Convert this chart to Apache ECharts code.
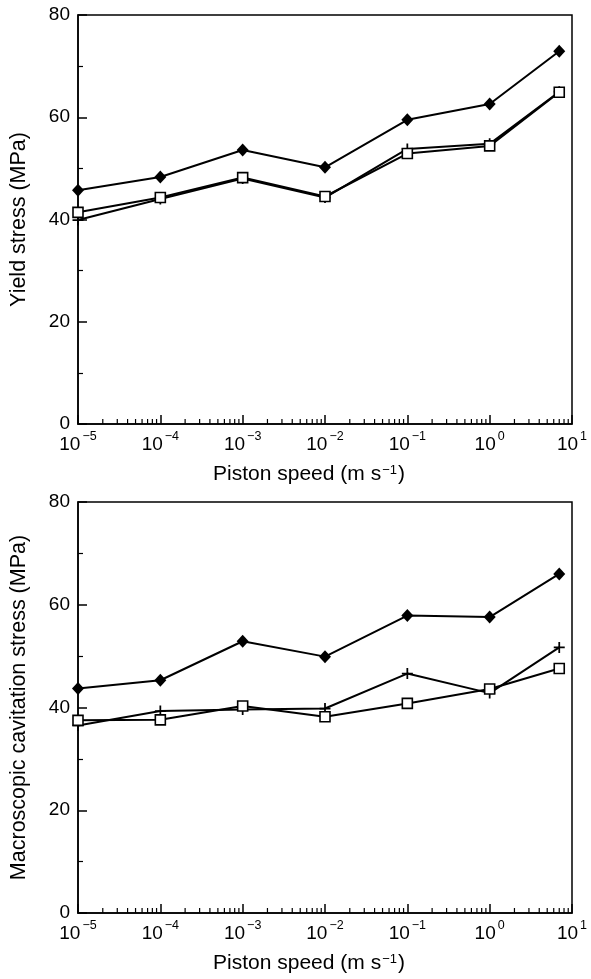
<!DOCTYPE html>
<html>
<head>
<meta charset="utf-8">
<script src="https://cdn.jsdelivr.net/npm/echarts@6/dist/echarts.min.js"></script>
<style>
html,body{margin:0;padding:0;background:#fff;}
#c{width:591px;height:979px;}
</style>
</head>
<body>
<div id="c"></div>
<script>
// ---- data ----
const speed = [1e-5, 1e-4, 1e-3, 1e-2, 1e-1, 1, 7];
const yieldDiamond = [45.7, 48.3, 53.6, 50.2, 59.5, 62.6, 72.9];
const yieldSquare  = [41.4, 44.3, 48.2, 44.5, 52.9, 54.4, 64.9];
const yieldPlus    = [39.9, 44.0, 48.0, 44.3, 53.8, 54.8, 65.0];
const cavDiamond   = [43.7, 45.3, 52.9, 49.9, 57.9, 57.6, 66.0];
const cavSquare    = [37.5, 37.6, 40.3, 38.2, 40.8, 43.6, 47.6];
const cavPlus      = [36.5, 39.3, 39.6, 39.8, 46.6, 42.8, 51.7];
const decadeExponents = [-5, -4, -3, -2, -1, 0, 1];
const minorMultipliers = [2, 3, 4, 5, 6, 7, 8, 9];
const yTicks = [0, 20, 40, 60, 80];
const xName = 'Piston speed (m s{s|−1})';
const yNameTop = 'Yield stress (MPa)';
const yNameBottom = 'Macroscopic cavitation stress (MPa)';

// ---- build ----
const FONT = '"Liberation Sans", Arial, Helvetica, sans-serif';
const minorTicks = [];
decadeExponents.slice(0, -1).forEach(e => minorMultipliers.forEach(m => minorTicks.push([m * Math.pow(10, e), 0])));
const pairs = ys => speed.map((x, i) => [x, ys[i]]);
const expStr = e => (e < 0 ? '−' + (-e) : String(e));

const plusPath = 'path://M4.2,0h1.6v4.2h4.2v1.6h-4.2v4.2h-1.6v-4.2h-4.2v-1.6h4.2z';

function xAxis(gridIndex) {
  return {
    type: 'log', logBase: 10, gridIndex, min: 1e-5, max: 10,
    name: xName, nameLocation: 'middle', nameGap: 40,
    nameTextStyle: { fontFamily: FONT, fontSize: 21, color: '#000', padding: [0, 32, 0, 0],
      rich: { s: { fontFamily: FONT, fontSize: 13, verticalAlign: 'top', padding: [0, 1, 8, 1] } } },
    axisLine: { lineStyle: { color: '#000', width: 1.5 } },
    axisTick: { inside: true, length: 9, lineStyle: { color: '#000', width: 1.5 } },
    splitLine: { show: false },
    axisLabel: {
      margin: 6, color: '#000', fontFamily: FONT, fontSize: 19,
      formatter: v => '{b|10}{s|' + expStr(Math.round(Math.log10(v))) + '}',
      rich: {
        b: { fontFamily: FONT, fontSize: 19, color: '#000', lineHeight: 24, verticalAlign: 'bottom' },
        s: { fontFamily: FONT, fontSize: 12.5, color: '#000', verticalAlign: 'top', lineHeight: 14, padding: [0, 0, 0, 2] }
      }
    }
  };
}
function yAxis(gridIndex, name) {
  return {
    type: 'value', gridIndex, min: 0, max: 80, interval: 20,
    name, nameLocation: 'middle', nameGap: 48,
    nameTextStyle: { fontFamily: FONT, fontSize: 21.5, color: '#000' },
    axisLine: { show: true, lineStyle: { color: '#000', width: 1.5 } },
    axisTick: { inside: true, length: 9, lineStyle: { color: '#000', width: 1.5 } },
    minorTick: { show: true, splitNumber: 2, length: 5, lineStyle: { color: '#000', width: 1.2 } },
    splitLine: { show: false },
    axisLabel: { margin: 8, color: '#000', fontFamily: FONT, fontSize: 19, formatter: v => yTicks.includes(v) ? String(v) : '' }
  };
}
function lineSeries(idx, ys, kind) {
  const base = {
    type: 'line', xAxisIndex: idx, yAxisIndex: idx, data: pairs(ys),
    lineStyle: { color: '#000', width: 2 }, showAllSymbol: true, clip: false, animation: false, z: 3
  };
  if (kind === 'diamond') {
    return Object.assign(base, { symbol: 'diamond', symbolSize: [12, 13], itemStyle: { color: '#000' } });
  } else if (kind === 'square') {
    return Object.assign(base, { symbol: 'rect', symbolSize: 10, z: 4, itemStyle: { color: '#fff', borderColor: '#000', borderWidth: 1.6 } });
  }
  return Object.assign(base, { symbol: plusPath, symbolSize: 11, itemStyle: { color: '#000' } });
}
function minorSeries(idx) {
  return {
    type: 'custom', xAxisIndex: idx, yAxisIndex: idx, data: minorTicks, clip: false, animation: false, silent: true,
    renderItem: (params, api) => {
      const p = api.coord([api.value(0), api.value(1)]);
      return { type: 'line', shape: { x1: p[0], y1: p[1], x2: p[0], y2: p[1] - 5 }, style: { stroke: '#000', lineWidth: 1.2 } };
    }
  };
}

const chart = echarts.init(document.getElementById('c'), null, { renderer: 'canvas' });
chart.setOption({
  backgroundColor: '#fff',
  animation: false,
  grid: [
    { left: 78, right: 19, top: 15, height: 409, show: true, borderColor: '#000', borderWidth: 1.5, backgroundColor: 'transparent' },
    { left: 78, right: 19, top: 502, height: 411, show: true, borderColor: '#000', borderWidth: 1.5, backgroundColor: 'transparent' }
  ],
  xAxis: [xAxis(0), xAxis(1)],
  yAxis: [yAxis(0, yNameTop), yAxis(1, yNameBottom)],
  series: [
    lineSeries(0, yieldPlus, 'plus'),
    lineSeries(0, yieldSquare, 'square'),
    lineSeries(0, yieldDiamond, 'diamond'),
    minorSeries(0),
    lineSeries(1, cavPlus, 'plus'),
    lineSeries(1, cavSquare, 'square'),
    lineSeries(1, cavDiamond, 'diamond'),
    minorSeries(1)
  ]
});
</script>
</body>
</html>
